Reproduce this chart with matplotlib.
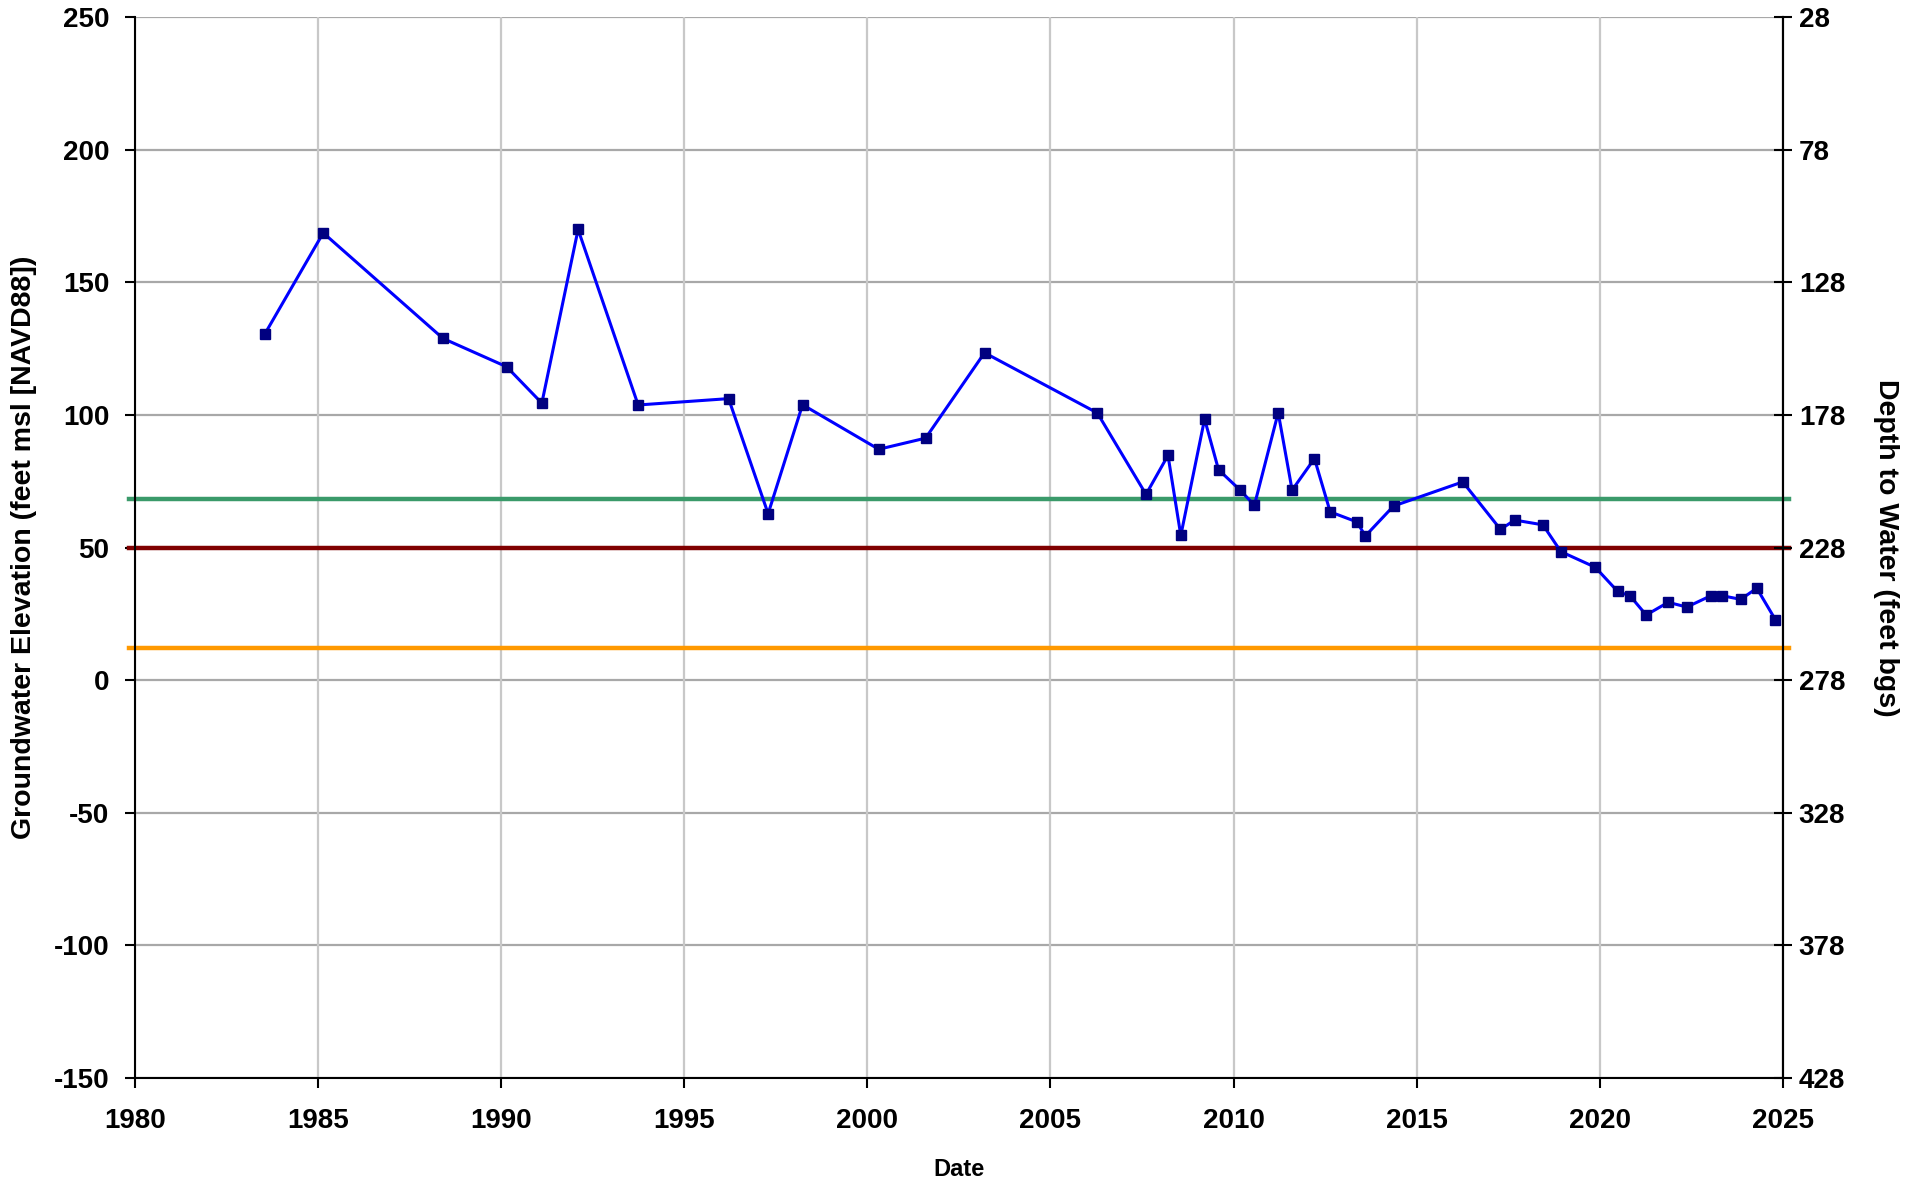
import matplotlib
matplotlib.use("Agg")
import matplotlib.pyplot as plt
import numpy as np

plt.rcParams['font.family'] = ['Liberation Sans', 'DejaVu Sans']
plt.rcParams['font.weight'] = 'bold'
plt.rcParams['axes.unicode_minus'] = False

# measurement dates (decimal years) and groundwater elevation (feet msl)
dates = [1983.55, 1985.14, 1988.41, 1990.15, 1991.11, 1992.10, 1993.74, 1996.21,
         1997.29, 1998.23, 2000.31, 2001.59, 2003.20, 2006.28, 2007.61, 2008.21,
         2008.56, 2009.21, 2009.59, 2010.18, 2010.57, 2011.22, 2011.60, 2012.21,
         2012.64, 2013.37, 2013.60, 2014.37, 2016.26, 2017.29, 2017.68, 2018.45,
         2018.94, 2019.88, 2020.49, 2020.83, 2021.27, 2021.87, 2022.38, 2023.04,
         2023.34, 2023.85, 2024.29, 2024.80]
elevation = [130.7, 168.7, 128.9, 118.2, 104.5, 170.0, 103.8, 106.2,
             62.8, 103.9, 87.1, 91.3, 123.5, 100.8, 70.1, 84.8,
             54.6, 98.5, 79.4, 71.7, 66.0, 100.9, 71.7, 83.6,
             63.5, 59.7, 54.4, 65.7, 74.8, 56.9, 60.4, 58.6,
             48.5, 42.6, 33.5, 31.8, 24.6, 29.4, 27.6, 31.9,
             31.9, 30.5, 34.7, 22.8]

# reference levels (feet msl)
level_green = 68.5
level_red = 50.0
level_orange = 12.3

ground_surface = 278  # depth = ground_surface - elevation
year_ticks = list(range(1980, 2030, 5))
elev_ticks = list(range(-150, 300, 50))

fig = plt.figure(figsize=(19.18, 11.84), dpi=100)
ax = fig.add_axes([0.0704, 0.0895, 0.8591, 0.8959])

ax.set_xlim(1980, 2025)
ax.set_ylim(-150, 250)

# grid
for y in elev_ticks:
  ax.axhline(y, color='#a8a8a8', linewidth=1.6, zorder=0)
for x in year_ticks:
  ax.axvline(x, color='#c8c8c8', linewidth=1.6, zorder=0)

# reference lines, slightly beyond the plot edges
line_x = [1979.83, 2025.17]
ax.plot(line_x, [level_green] * 2, color='#3a9a6a', linewidth=3.2, clip_on=False, zorder=2)
ax.plot(line_x, [level_red] * 2, color='#800000', linewidth=3.2, clip_on=False, zorder=2)
ax.plot(line_x, [level_orange] * 2, color='#ff9900', linewidth=3.2, clip_on=False, zorder=2)

ax.plot(dates, elevation, color='#0000ff', linewidth=2.2, marker='s', markersize=7,
        markerfacecolor='#000080', markeredgecolor='#000080', zorder=3)

ax.set_xticks(year_ticks)
ax.set_yticks(elev_ticks)
ax.tick_params(axis='both', labelsize=20, length=7.5, width=1.5, color='black')
ax.tick_params(axis='x', pad=14)
ax.tick_params(axis='y', pad=11)
for lab in ax.get_xticklabels() + ax.get_yticklabels():
  lab.set_fontweight('bold')

for side in ['left', 'bottom', 'right']:
  ax.spines[side].set_linewidth(1.5)
  ax.spines[side].set_color('black')
ax.spines['top'].set_visible(False)

ax.set_xlabel("Date", fontsize=17, fontweight='bold', va='center')
ax.xaxis.set_label_coords(0.5, -0.0858)
ax.set_ylabel("Groundwater Elevation (feet msl [NAVD88])", fontsize=20.5, fontweight='bold',
              va='center')
ax.yaxis.set_label_coords(-0.0673, 0.5)

# right axis: depth to water
ax2 = ax.twinx()
ax2.set_ylim(ax.get_ylim())
ax2.set_yticks(elev_ticks)
ax2.set_yticklabels([str(ground_surface - v) for v in elev_ticks], fontsize=20, fontweight='bold')
ax2.tick_params(axis='y', direction='inout', length=13, width=1.5, pad=5)
ax2.spines['right'].set_linewidth(1.5)
for side in ['left', 'bottom', 'top']:
  ax2.spines[side].set_visible(False)
ax2.set_ylabel("Depth to Water (feet bgs)", fontsize=20.5, fontweight='bold', rotation=270,
               va='center')
ax2.yaxis.set_label_coords(1.0625, 0.5)

fig.savefig("out.png", dpi=100)
